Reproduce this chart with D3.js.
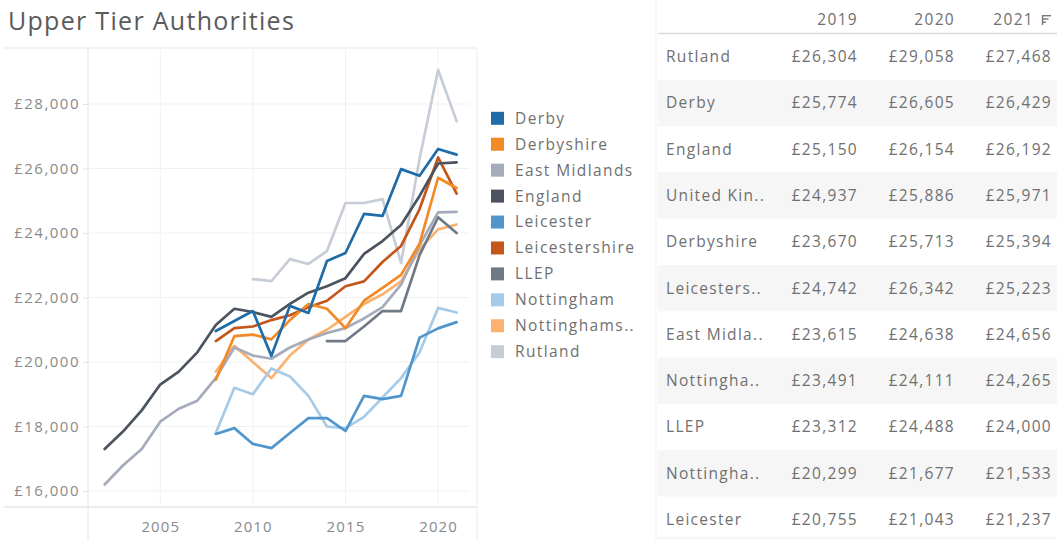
<!DOCTYPE html>
<html><head><meta charset="utf-8">
<script src="https://cdn.jsdelivr.net/npm/d3@7/dist/d3.min.js"></script>
<style>
body{margin:0;background:#fff;}
text{font-family:"Open Sans",sans-serif;}
</style>
</head><body>
<svg id="c" width="1057" height="541"></svg>
<script>
// ---------- data ----------
const seriesNames = ["Derby","Derbyshire","East Midlands","England","Leicester","Leicestershire","LLEP","Nottingham","Nottinghamshire","Rutland"];
const legendLabels = ["Derby","Derbyshire","East Midlands","England","Leicester","Leicestershire","LLEP","Nottingham","Nottinghams..","Rutland"];
const seriesColors = ["#1f6ca8","#f28a25","#a4abbb","#4b535f","#5096cc","#c4561a","#707a87","#a6cbe8","#fbb26f","#c7cdd6"];

const years2002 = [2002,2003,2004,2005,2006,2007,2008,2009,2010,2011,2012,2013,2014,2015,2016,2017,2018,2019,2020,2021];
const years2008 = [2008,2009,2010,2011,2012,2013,2014,2015,2016,2017,2018,2019,2020,2021];
const years2010 = [2010,2011,2012,2013,2014,2015,2016,2017,2018,2019,2020,2021];
const years2014 = [2014,2015,2016,2017,2018,2019,2020,2021];

const derby          = [20960,21270,21580,20190,21740,21520,23130,23380,24590,24530,25980,25774,26605,26429];
const derbyshire     = [19450,20800,20850,20700,21300,21800,21650,21050,21900,22300,22700,23670,25713,25394];
const eastMidlands   = [16200,16800,17300,18150,18550,18800,19500,20450,20200,20100,20450,20700,20900,21050,21350,21700,22400,23615,24638,24656];
const england        = [17300,17850,18500,19300,19700,20300,21150,21650,21550,21400,21800,22150,22350,22600,23350,23750,24250,25150,26154,26192];
const leicester      = [17770,17950,17460,17330,17800,18260,18260,17860,18950,18850,18950,20755,21043,21237];
const leicestershire = [20650,21050,21100,21300,21450,21700,21900,22350,22500,23100,23600,24742,26342,25223];
const llep           = [20650,20650,21100,21580,21580,23312,24488,24000];
const nottingham     = [17800,19200,19000,19800,19550,18950,18000,17950,18300,18900,19500,20299,21677,21533];
const nottinghamshire= [19700,20500,20000,19500,20200,20700,21000,21400,21800,22100,22500,23491,24111,24265];
const rutland        = [22570,22510,23190,23040,23440,24930,24930,25050,23070,26304,29058,27468];

const seriesYears  = [years2008,years2008,years2002,years2002,years2008,years2008,years2014,years2008,years2008,years2010];
const seriesValues = [derby,derbyshire,eastMidlands,england,leicester,leicestershire,llep,nottingham,nottinghamshire,rutland];

const yTicks = [16000,18000,20000,22000,24000,26000,28000];
const xTicks = [2005,2010,2015,2020];

const tableHeaders = ["2019","2020","2021"];
const tableNames = ["Rutland","Derby","England","United Kin..","Derbyshire","Leicesters..","East Midla..","Nottingha..","LLEP","Nottingha..","Leicester"];
const table2019 = [26304,25774,25150,24937,23670,24742,23615,23491,23312,20299,20755];
const table2020 = [29058,26605,26154,25886,25713,26342,24638,24111,24488,21677,21043];
const table2021 = [27468,26429,26192,25971,25394,25223,24656,24265,24000,21533,21237];

// ---------- drawing ----------
const svg = d3.select("#c");
const W = 1057, H = 541;
const plot = {left:88, right:477, top:48, bottom:507};

const x = d3.scaleLinear().domain([2001.1, 2022.1]).range([plot.left, plot.right]);
const y = d3.scaleLinear().domain([15504, 29736]).range([plot.bottom, plot.top]);
const fmt = v => "£" + d3.format(",")(v);
const txtCol = "#707070";

// title
svg.append("text").attr("x", 8).attr("y", 30).attr("font-size", 25).attr("fill", "#5a5a5a")
  .attr("letter-spacing", 1.3).text("Upper Tier Authorities");

// frame lines
svg.append("line").attr("x1", 4).attr("x2", plot.right).attr("y1", plot.top).attr("y2", plot.top).attr("stroke", "#e6e6e6");
svg.append("line").attr("x1", 4).attr("x2", plot.right).attr("y1", plot.bottom).attr("y2", plot.bottom).attr("stroke", "#d9d9d9");
svg.append("line").attr("x1", plot.left).attr("x2", plot.left).attr("y1", plot.top).attr("y2", H).attr("stroke", "#e6e6e6");
svg.append("line").attr("x1", plot.right).attr("x2", plot.right).attr("y1", plot.top).attr("y2", H).attr("stroke", "#ececec");

// gridlines
const grid = svg.append("g");
grid.selectAll(".hg").data(yTicks).join("line")
  .attr("x1", plot.left).attr("x2", plot.right - 8)
  .attr("y1", d => y(d)).attr("y2", d => y(d)).attr("stroke", "#f1f1f1");
grid.selectAll(".vg").data(xTicks).join("line")
  .attr("x1", d => x(d)).attr("x2", d => x(d))
  .attr("y1", plot.top).attr("y2", plot.bottom).attr("stroke", "#f1f1f1");

// y axis
const yAxis = svg.append("g").attr("transform", `translate(${plot.left},0)`)
  .call(d3.axisLeft(y).tickValues(yTicks).tickFormat(fmt).tickSize(5).tickPadding(3));
yAxis.select(".domain").remove();
yAxis.selectAll("line").attr("stroke", "#e3e3e3");
yAxis.selectAll("text").attr("font-size", 15).attr("fill", "#8a8a8a").attr("font-family", "Open Sans").attr("letter-spacing", 1.5);

// x axis
const xAxis = svg.append("g").attr("transform", `translate(0,${plot.bottom})`)
  .call(d3.axisBottom(x).tickValues(xTicks).tickFormat(d3.format("d")).tickSize(0).tickPadding(14));
xAxis.select(".domain").remove();
xAxis.selectAll("text").attr("font-size", 15).attr("fill", "#8a8a8a").attr("font-family", "Open Sans").attr("letter-spacing", 1.1);

// lines (draw in reverse so Derby ends on top)
const line = d3.line().x(d => x(d[0])).y(d => y(d[1]));
const order = d3.range(seriesNames.length).reverse();
svg.append("g").selectAll("path").data(order).join("path")
  .attr("d", i => line(seriesYears[i].map((yr, k) => [yr, seriesValues[i][k]])))
  .attr("fill", "none").attr("stroke", i => seriesColors[i])
  .attr("stroke-width", 2.7).attr("stroke-linejoin", "round").attr("stroke-linecap", "round");

// legend
const lg = svg.append("g");
const ly = d3.scalePoint().domain(legendLabels).range([118.3, 351.7]);
legendLabels.forEach((lab, i) => {
  lg.append("rect").attr("x", 491).attr("y", ly(lab) - 6.5).attr("width", 13).attr("height", 13).attr("fill", seriesColors[i]);
  lg.append("text").attr("x", 515).attr("y", ly(lab)).attr("dy", "0.35em")
    .attr("font-size", 15.5).attr("fill", txtCol).attr("letter-spacing", 1.4).text(lab);
});

// separator between legend and table
svg.append("line").attr("x1", 656).attr("x2", 656).attr("y1", 0).attr("y2", H).attr("stroke", "#f0f0f0");

// table
const tb = svg.append("g");
const rowTop = 33.5, rowH = 46.3;
const rowY = d3.scaleLinear().domain([0, tableNames.length]).range([rowTop, rowTop + rowH * tableNames.length]);
tableNames.forEach((nm, i) => {
  if (i % 2 === 1) {
    tb.append("rect").attr("x", 658).attr("y", rowY(i)).attr("width", W - 658).attr("height", rowH).attr("fill", "#f6f6f6");
  }
});
tb.append("line").attr("x1", 658).attr("x2", W).attr("y1", rowTop).attr("y2", rowTop).attr("stroke", "#dcdcdc").attr("stroke-width", 1.5);
tb.append("line").attr("x1", 658).attr("x2", W).attr("y1", 538).attr("y2", 538).attr("stroke", "#ececec");

const hdrX = [858, 955, 1034];
tableHeaders.forEach((h, j) => {
  tb.append("text").attr("x", hdrX[j]).attr("y", 20).attr("dy", "0.35em").attr("text-anchor", "end")
    .attr("font-size", 15.5).attr("fill", txtCol).attr("letter-spacing", 1.3).text(h);
});
// sort icon next to 2021
const ic = tb.append("g").attr("transform", "translate(1042,15)").attr("stroke", "#777").attr("stroke-width", 1.4);
ic.append("line").attr("x1", 0.5).attr("x2", 0.5).attr("y1", 0).attr("y2", 10);
ic.append("line").attr("x1", 0).attr("x2", 9).attr("y1", 0.7).attr("y2", 0.7);
ic.append("line").attr("x1", 0).attr("x2", 6.5).attr("y1", 4).attr("y2", 4);
ic.append("line").attr("x1", 0).attr("x2", 4).attr("y1", 7.3).attr("y2", 7.3);

const colsData = [table2019, table2020, table2021];
const valColX = [858, 955, 1052];
tableNames.forEach((nm, i) => {
  const cy = rowY(i) + rowH / 2;
  tb.append("text").attr("x", 666).attr("y", cy).attr("dy", "0.35em")
    .attr("font-size", 15.5).attr("fill", txtCol).attr("letter-spacing", 1.3).text(nm);
  colsData.forEach((col, j) => {
    tb.append("text").attr("x", valColX[j]).attr("y", cy).attr("dy", "0.35em").attr("text-anchor", "end")
      .attr("font-size", 15.5).attr("fill", txtCol).attr("letter-spacing", 1.3).text(fmt(col[i]));
  });
});
</script>
</body></html>
